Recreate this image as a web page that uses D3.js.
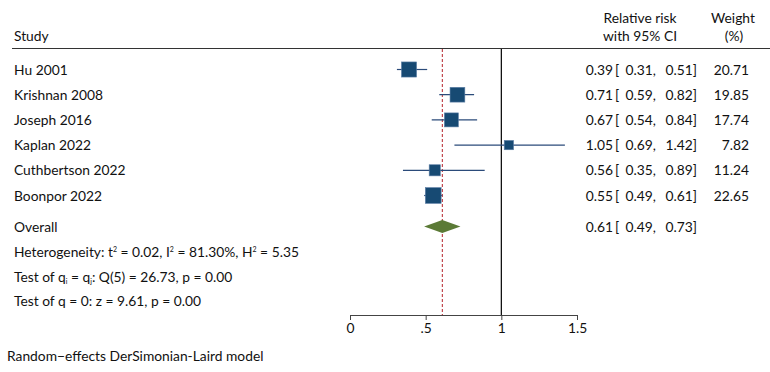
<!DOCTYPE html>
<html><head><meta charset="utf-8">
<script src="https://cdn.jsdelivr.net/npm/d3@7"></script>
<style>body{margin:0;background:#fff}svg{display:block}text{font-family:Lato,"Noto Sans",sans-serif;fill:#111}</style>
</head><body><svg id="c" width="770" height="372"></svg>
<script>
const studies = ["Hu 2001","Krishnan 2008","Joseph 2016","Kaplan 2022","Cuthbertson 2022","Boonpor 2022"];
const rr = [0.39,0.71,0.67,1.05,0.56,0.55];
const lo = [0.31,0.59,0.54,0.69,0.35,0.49];
const hi = [0.51,0.82,0.84,1.42,0.89,0.61];
const weights = [20.71,19.85,17.74,7.82,11.24,22.65];
const overall = {est:0.61, lo:0.49, hi:0.73};
const xTicks = [0,0.5,1,1.5];
const xTickLabels = ["0",".5","1","1.5"];

const svg = d3.select("#c");
const fs = 13.8;
const x = d3.scaleLinear().domain([0,1.5]).range([350,577]);
const rowY = d3.scalePoint().domain(d3.range(studies.length)).range([69.5,195.5]);
const yOverall = 226.5;
const sz = d3.scaleSqrt().domain([0,25]).range([0,16.6]);
const fmt = d3.format(".2f");

// header
svg.append("text").attr("x",14).attr("y",41).attr("font-size",fs).text("Study");
svg.append("text").attr("x",640).attr("y",23).attr("font-size",fs).attr("text-anchor","middle").text("Relative risk");
svg.append("text").attr("x",640).attr("y",41).attr("font-size",fs).attr("text-anchor","middle").text("with 95% CI");
svg.append("text").attr("x",733).attr("y",23).attr("font-size",fs).attr("text-anchor","middle").text("Weight");
svg.append("text").attr("x",734).attr("y",41).attr("font-size",fs).attr("text-anchor","middle").text("(%)");
svg.append("line").attr("x1",12).attr("x2",770).attr("y1",48.5).attr("y2",48.5).attr("stroke","#333").attr("stroke-width",1.2);

// reference lines
svg.append("line").attr("x1",x(1)).attr("x2",x(1)).attr("y1",49).attr("y2",315).attr("stroke","#000").attr("stroke-width",1.2);
svg.append("line").attr("x1",x(overall.est)).attr("x2",x(overall.est)).attr("y1",49).attr("y2",315)
  .attr("stroke","#b5222a").attr("stroke-width",1).attr("stroke-dasharray","3,2");

// study rows
studies.forEach((s,i)=>{
  const y = rowY(i);
  svg.append("text").attr("x",14).attr("y",y+5).attr("font-size",fs).text(s);
  svg.append("line").attr("x1",x(lo[i])).attr("x2",x(hi[i])).attr("y1",y).attr("y2",y).attr("stroke","#2b4b7a").attr("stroke-width",1.2);
  const w = sz(weights[i]);
  svg.append("rect").attr("x",x(rr[i])-w/2).attr("y",y-w/2).attr("width",w).attr("height",w)
    .attr("fill","#174a73").attr("stroke","#5d7fa6").attr("stroke-width",0.6);
  svg.append("text").attr("x",613).attr("y",y+5).attr("font-size",fs).attr("text-anchor","end").text(fmt(rr[i]));
  svg.append("text").attr("x",615).attr("y",y+5).attr("font-size",fs).text("[");
  svg.append("text").attr("x",656).attr("y",y+5).attr("font-size",fs).attr("text-anchor","end").text(fmt(lo[i])+",");
  svg.append("text").attr("x",697).attr("y",y+5).attr("font-size",fs).attr("text-anchor","end").text(fmt(hi[i])+"]");
  svg.append("text").attr("x",749).attr("y",y+5).attr("font-size",fs).attr("text-anchor","end").text(fmt(weights[i]));
});

// overall
svg.append("text").attr("x",14).attr("y",yOverall+5).attr("font-size",fs).text("Overall");
const dh = 6.5;
svg.append("path").attr("d",`M${x(overall.lo)},${yOverall}L${x(overall.est)},${yOverall-dh}L${x(overall.hi)},${yOverall}L${x(overall.est)},${yOverall+dh}Z`)
  .attr("fill","#5b7a36");
svg.append("text").attr("x",613).attr("y",yOverall+5).attr("font-size",fs).attr("text-anchor","end").text(fmt(overall.est));
svg.append("text").attr("x",615).attr("y",yOverall+5).attr("font-size",fs).text("[");
svg.append("text").attr("x",656).attr("y",yOverall+5).attr("font-size",fs).attr("text-anchor","end").text(fmt(overall.lo)+",");
svg.append("text").attr("x",697).attr("y",yOverall+5).attr("font-size",fs).attr("text-anchor","end").text(fmt(overall.hi)+"]");

// stats text
const h = svg.append("text").attr("x",14).attr("y",257).attr("font-size",fs);
h.append("tspan").text("Heterogeneity: t");
h.append("tspan").attr("font-size",7).attr("dy",-5).text("2");
h.append("tspan").attr("dy",5).text(" = 0.02, I");
h.append("tspan").attr("font-size",7).attr("dy",-5).text("2");
h.append("tspan").attr("dy",5).text(" = 81.30%, H");
h.append("tspan").attr("font-size",7).attr("dy",-5).text("2");
h.append("tspan").attr("dy",5).text(" = 5.35");

const q = svg.append("text").attr("x",14).attr("y",282).attr("font-size",fs);
q.append("tspan").text("Test of q");
q.append("tspan").attr("font-size",7).attr("dy",2).text("i");
q.append("tspan").attr("dy",-2).text(" = q");
q.append("tspan").attr("font-size",7).attr("dy",2).text("j");
q.append("tspan").attr("dy",-2).text(": Q(5) = 26.73, p = 0.00");

svg.append("text").attr("x",14).attr("y",306).attr("font-size",fs).text("Test of q = 0: z = 9.61, p = 0.00");

// axis
const ax = svg.append("g").attr("transform","translate(0,315)")
  .call(d3.axisBottom(x).tickValues(xTicks).tickFormat((d,i)=>xTickLabels[i]).tickSize(5).tickSizeOuter(0).tickPadding(3));
ax.select(".domain").attr("stroke","#444");
ax.selectAll(".tick line").attr("stroke","#444");
ax.selectAll(".tick text").attr("font-size",fs).attr("font-family","Lato,sans-serif").attr("fill","#111");

svg.append("text").attr("x",7).attr("y",361).attr("font-size",fs).text("Random\u2212effects DerSimonian-Laird model");
</script></body></html>
